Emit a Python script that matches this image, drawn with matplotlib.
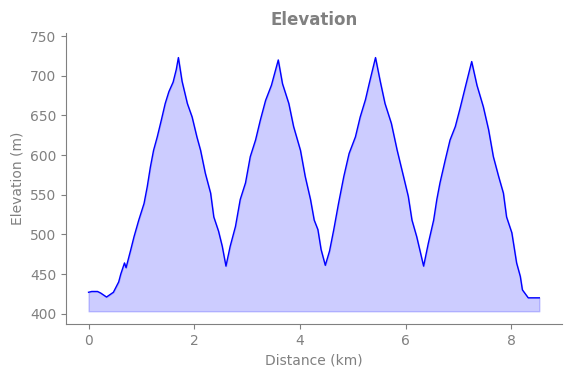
import matplotlib
matplotlib.use("Agg")
import matplotlib.pyplot as plt

# distance along the route (km) and elevation (m)
distance = [0.00, 0.06, 0.17, 0.23, 0.34, 0.47, 0.57, 0.61, 0.68, 0.71, 0.80,
            0.86, 0.95, 1.05, 1.11, 1.17, 1.23, 1.30, 1.38, 1.45, 1.52, 1.60,
            1.66, 1.70, 1.77, 1.87, 1.96, 2.05, 2.12, 2.21, 2.31, 2.37, 2.46,
            2.53, 2.60, 2.68, 2.78, 2.87, 2.97, 3.06, 3.16, 3.25, 3.35, 3.46,
            3.59, 3.67, 3.79, 3.88, 4.01, 4.10, 4.20, 4.27, 4.34, 4.40, 4.48,
            4.56, 4.64, 4.73, 4.83, 4.93, 5.05, 5.14, 5.24, 5.31, 5.43, 5.52,
            5.61, 5.73, 5.84, 5.96, 6.05, 6.12, 6.21, 6.27, 6.34, 6.43, 6.53,
            6.59, 6.65, 6.75, 6.84, 6.94, 7.03, 7.13, 7.25, 7.35, 7.47, 7.57,
            7.66, 7.76, 7.85, 7.91, 8.01, 8.10, 8.17, 8.21, 8.32, 8.42, 8.53]
elevation = [427, 428, 428, 426, 421, 427, 440, 450, 464, 458, 481,
             497, 518, 539, 560, 585, 606, 623, 645, 665, 680, 692,
             708, 723, 693, 665, 648, 623, 606, 577, 552, 522, 504,
             485, 460, 485, 510, 544, 565, 598, 619, 644, 669, 688,
             720, 690, 665, 636, 606, 573, 544, 518, 506, 481, 461,
             479, 506, 539, 573, 602, 623, 648, 670, 690, 723, 693,
             665, 640, 606, 573, 548, 518, 497, 480, 460, 489, 518,
             544, 565, 594, 619, 636, 659, 686, 718, 688, 661, 632,
             598, 573, 552, 522, 502, 464, 447, 430, 420, 420, 420]
base_elevation = 403

text_gray = "#808080"

fig = plt.figure(figsize=(5.71, 3.78), dpi=100)
ax = fig.add_axes([0.1156, 0.1429, 0.8684, 0.7698])

ax.plot(distance, elevation, color="blue", linewidth=1)
ax.fill_between(distance, elevation, base_elevation, color="blue", alpha=0.2)

ax.set_ylim(387, 754)
ax.set_yticks([400, 450, 500, 550, 600, 650, 700, 750])
ax.set_xticks([0, 2, 4, 6, 8])

ax.set_title("Elevation", color=text_gray, fontweight="bold", fontsize=12)
ax.set_xlabel("Distance (km)", color=text_gray)
ax.set_ylabel("Elevation (m)", color=text_gray)

for side in ["top", "right"]:
    ax.spines[side].set_visible(False)
for side in ["left", "bottom"]:
    ax.spines[side].set_color(text_gray)
ax.tick_params(colors=text_gray)

plt.savefig("out.png", dpi=100)
